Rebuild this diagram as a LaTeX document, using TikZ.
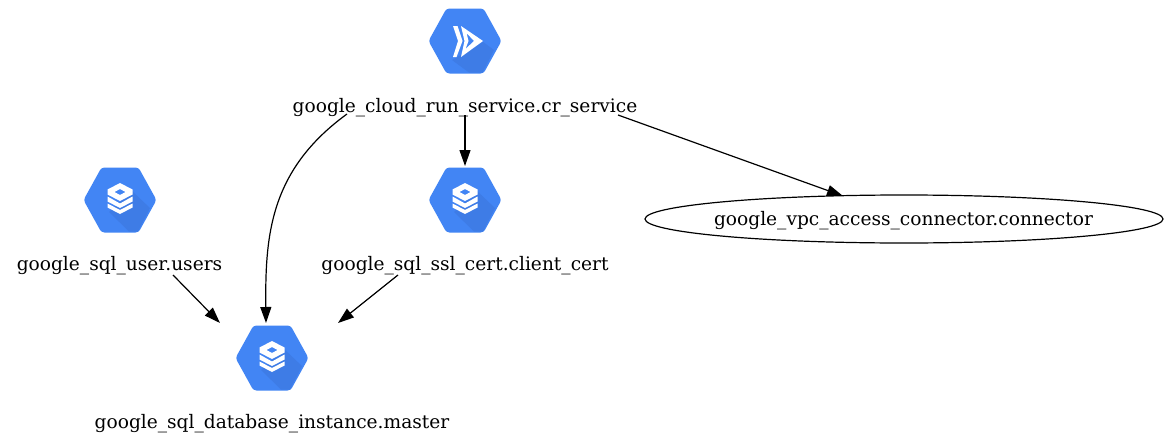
\documentclass[tikz,border=0pt]{standalone}
\usepackage{fontspec}
\setmainfont{DejaVu Serif}
\usetikzlibrary{arrows.meta,shapes.geometric}
\definecolor{gblue}{HTML}{4285F4}
\definecolor{gshade}{HTML}{3E7CE6}
\tikzset{
  lab/.style={inner sep=0pt,font=\fontsize{18.6}{20}\selectfont,text=black},
  hexicon/.style={minimum width=72pt,minimum height=65pt,inner sep=0pt},
  conn/.style={draw=black,line width=1.2pt,-{Triangle[length=16pt,width=11pt]}},
}
\newcommand{\hexbase}[2]{%
  \begin{scope}[shift={(#1,#2)}]
    \fill[gblue,rounded corners=3pt] (-36.5,0) -- (-18.5,-32.5) -- (18.5,-32.5) -- (36.5,0) -- (18.5,32.5) -- (-18.5,32.5) -- cycle;
  \end{scope}}
\newcommand{\dbicon}[2]{%
  \hexbase{#1}{#2}
  \begin{scope}[shift={(#1,#2)}]
    \fill[gshade] (12,-9) -- (30,8) -- (18,31.5) -- (9,31.5) -- (-11,12) -- cycle;
    \fill[white,even odd rule] (0,-17) -- (12.5,-10.5) -- (12.5,-5.5) -- (0,1) -- (-12.5,-5.5) -- (-12.5,-10.5) -- cycle
       (0,-11) -- (-5.5,-8) -- (0,-5) -- (5.5,-8) -- cycle;
    \fill[white] (-12.5,-3.5) -- (0,3.5) -- (12.5,-3.5) -- (12.5,1.5) -- (0,8) -- (-12.5,1.5) -- cycle;
    \fill[white] (-12.5,3.5) -- (0,10) -- (12.5,3.5) -- (12.5,7.5) -- (0,14) -- (-12.5,7.5) -- cycle;
  \end{scope}}
\newcommand{\runicon}[2]{%
  \hexbase{#1}{#2}
  \begin{scope}[shift={(#1,#2)}]
    \fill[gshade] (18,1) -- (29,9) -- (17.5,31.5) -- (4,31.5) -- (-13,19) -- cycle;
    \fill[white] (-12,-15) -- (-7.5,-15) -- (-2.5,0) -- (-8.5,16) -- (-12,16) -- (-7,0) -- cycle;
    \fill[white,even odd rule] (-4,-15) -- (18,0) -- (-4,16) -- (-0.5,0) -- cycle
       (1.5,-8) -- (9,0) -- (0.5,8) -- (3.5,0) -- cycle;
  \end{scope}}
\begin{document}
\begin{tikzpicture}[x=1pt,y=-1pt]
\useasboundingbox (0,0) rectangle (1168,439);
\fill[white] (0,0) rectangle (1168,439);

\runicon{465}{41}
\dbicon{120}{200}
\dbicon{465}{200}
\dbicon{272}{358}

\node[hexicon] (runhex) at (465,41) {};
\node[hexicon] (userhex) at (120,200) {};
\node[hexicon] (certhex) at (465,200) {};
\node[hexicon] (masterhex) at (272,358) {};

\node[lab] (run) at (465,107.5) {google\_cloud\_run\_service.cr\_service};
\node[lab] (user) at (119.5,265.5) {google\_sql\_user.users};
\node[lab] (cert) at (465,265.5) {google\_sql\_ssl\_cert.client\_cert};
\node[lab] (master) at (272,423.5) {google\_sql\_database\_instance.master};
\node[ellipse,draw=black,line width=1.2pt,minimum width=518pt,minimum height=48pt,inner sep=0pt] (vpc) at (904,219) {};
\node[lab] (vpclabel) at (903.5,220.5) {google\_vpc\_access\_connector.connector};

\coordinate (runA) at (347,114);
\coordinate (runB) at (465,115);
\coordinate (runC) at (618,115);
\coordinate (certIn) at (465,166);
\coordinate (userA) at (173,275);
\coordinate (certA) at (398,275);
\coordinate (vpcIn) at (843,196);
\coordinate (masterTop) at (266,323);
\coordinate (masterL) at (220,323);
\coordinate (masterR) at (338,323);

\draw[conn] (runA) .. controls (270,170) and (265,235) .. (masterTop);
\draw[conn] (runB) -- (certIn);
\draw[conn] (runC) -- (vpcIn);
\draw[conn] (userA) -- (masterL);
\draw[conn] (certA) -- (masterR);
\end{tikzpicture}
\end{document}
